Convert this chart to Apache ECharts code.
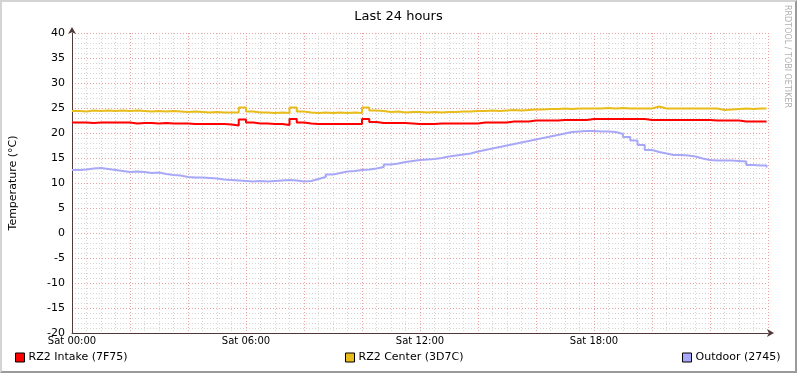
<!DOCTYPE html>
<html><head><meta charset="utf-8">
<script src="https://cdn.jsdelivr.net/npm/echarts@6/dist/echarts.min.js"></script>
<style>
html,body{margin:0;padding:0;background:#fff;}
#wrap{position:relative;width:797px;height:373px;}
#c{position:absolute;left:0;top:0;width:797px;height:373px;}
#frame{position:absolute;left:0;top:0;width:797px;height:373px;box-sizing:border-box;
border-top:2px solid #d4d4d4;border-left:2px solid #d4d4d4;border-right:2px solid #9a9a9a;border-bottom:2px solid #9a9a9a;pointer-events:none;}
</style></head>
<body><div id="wrap"><div id="c"></div><div id="frame"></div></div>
<script>
// time grid in hours since Sat 00:00 (15-minute steps)
const hours = Array.from({length: 96}, (_, i) => i / 4).concat([23.95]);
const seriesNames = ['RZ2 Intake (7F75)', 'RZ2 Center (3D7C)', 'Outdoor (2745)'];
const xTickLabels = ['Sat 00:00', 'Sat 06:00', 'Sat 12:00', 'Sat 18:00'];

const intake = [
  22.1,22.1,22.0,22.1,22.1,22.1,22.1,22.1,
  21.9,22.0,22.0,21.9,22.0,21.9,21.9,21.9,
  21.8,21.8,21.8,21.8,21.8,21.7,21.5,22.7,
  22.1,21.9,21.9,21.8,21.8,21.6,22.8,22.1,
  21.9,21.8,21.8,21.8,21.8,21.8,21.8,21.8,
  22.8,22.2,22.0,22.0,22.0,22.0,21.9,21.8,
  21.8,21.8,21.9,21.9,21.9,21.9,21.9,21.9,
  22.1,22.1,22.1,22.1,22.3,22.3,22.3,22.5,
  22.5,22.5,22.5,22.6,22.6,22.6,22.6,22.8,
  22.8,22.8,22.8,22.8,22.8,22.8,22.8,22.6,
  22.6,22.6,22.6,22.6,22.6,22.6,22.6,22.6,
  22.5,22.5,22.5,22.5,22.3,22.3,22.3,22.3,
  22.3
];
const center = [
  24.4,24.3,24.5,24.4,24.5,24.4,24.5,24.4,
  24.5,24.4,24.3,24.4,24.3,24.4,24.3,24.2,
  24.3,24.2,24.1,24.2,24.1,24.1,24.1,25.1,
  24.3,24.1,24.1,24.0,24.1,24.0,25.1,24.3,
  24.1,24.0,24.1,24.0,24.1,24.0,24.1,24.0,
  25.1,24.5,24.4,24.2,24.3,24.1,24.2,24.2,
  24.1,24.2,24.1,24.2,24.2,24.3,24.3,24.4,
  24.4,24.5,24.4,24.5,24.6,24.5,24.6,24.7,
  24.7,24.8,24.8,24.9,24.8,24.9,24.9,24.9,
  24.9,25.0,24.9,25.0,24.9,24.9,24.9,24.9,
  25.3,24.9,24.9,24.9,24.9,24.9,24.9,24.9,
  24.9,24.6,24.7,24.8,24.9,24.8,24.9,24.9,
  24.9
];
const outdoor = [
  12.6,12.7,12.9,13.0,12.8,12.6,12.4,12.2,
  12.3,12.2,12.0,12.1,11.8,11.6,11.5,11.2,
  11.1,11.1,11.0,10.9,10.7,10.6,10.5,10.4,
  10.3,10.4,10.3,10.4,10.5,10.6,10.5,10.3,
  10.4,10.8,11.2,11.7,12.0,12.3,12.4,12.6,
  12.7,12.9,13.2,13.7,13.9,14.2,14.4,14.6,
  14.7,14.8,15.0,15.3,15.5,15.7,15.9,16.3,
  16.6,16.9,17.2,17.5,17.8,18.1,18.4,18.7,
  19.0,19.3,19.6,19.9,20.2,20.3,20.4,20.4,
  20.3,20.3,20.2,19.8,19.2,18.5,17.6,16.6,
  16.2,15.9,15.6,15.6,15.5,15.3,14.9,14.6,
  14.5,14.5,14.5,14.4,14.3,13.6,13.5,13.5,
  13.1
];
const colors = ['#ff0000', '#e8bc1a', '#a8a8f8'];
const allValues = [intake, center, outdoor];

const FONT = 'DejaVu Sans';
const chart = echarts.init(document.getElementById('c'), null, {renderer: 'canvas'});

const legendLefts = [15, 345, 682];
const option = {
  animation: false,
  backgroundColor: '#ffffff',
  textStyle: {fontFamily: FONT},
  title: {
    text: 'Last 24 hours', left: 'center', top: 5,
    textStyle: {fontFamily: FONT, fontSize: 13, fontWeight: 'normal', color: '#000'}
  },
  legend: seriesNames.map((n, i) => ({
    data: [n], left: legendLefts[i], top: 352, itemWidth: 9, itemHeight: 9, itemGap: 4,
    icon: 'rect', padding: 0, selectedMode: false,
    itemStyle: {borderColor: '#000', borderWidth: 1},
    textStyle: {fontFamily: FONT, fontSize: 11, color: '#000', padding: [0, 0, 0, -1]}
  })),
  grid: {left: 67, right: 29, top: 33, bottom: 40, containLabel: false},
  xAxis: {
    type: 'value', min: 0, max: 24, interval: 2,
    axisLine: {show: true, onZero: false, lineStyle: {color: '#503838', width: 1},
      symbol: ['none', 'arrow'], symbolSize: [6, 7], symbolOffset: [0, 6]},
    axisTick: {show: false},
    axisLabel: {
      fontFamily: FONT, fontSize: 10, color: '#000', margin: 3,
      formatter: v => (v % 6 === 0 && v < 24) ? xTickLabels[v / 6] : ''
    },
    splitLine: {show: true, lineStyle: {color: '#e8a0a0', type: [1, 2], width: 1}},
    minorTick: {show: false, splitNumber: 4},
    minorSplitLine: {show: true, lineStyle: {color: '#d4d4d4', type: [1, 2], width: 1}}
  },
  yAxis: {
    type: 'value', min: -20, max: 40, interval: 5,
    name: 'Temperature (°C)', nameLocation: 'middle', nameGap: 53, nameRotate: 90,
    nameTextStyle: {fontFamily: FONT, fontSize: 11, color: '#000'},
    axisLine: {show: true, onZero: false, lineStyle: {color: '#503838', width: 1},
      symbol: ['none', 'arrow'], symbolSize: [6, 7], symbolOffset: [0, 6]},
    axisTick: {show: false},
    axisLabel: {fontFamily: FONT, fontSize: 11, color: '#000', margin: 7},
    splitLine: {show: true, lineStyle: {color: '#e8a0a0', type: [1, 2], width: 1}},
    minorTick: {show: false, splitNumber: 5},
    minorSplitLine: {show: true, lineStyle: {color: '#d4d4d4', type: [1, 2], width: 1}}
  },
  series: seriesNames.map((n, i) => ({
    name: n, type: 'line', step: 'end', showSymbol: false, symbol: 'none',
    color: colors[i],
    lineStyle: {color: colors[i], width: 2},
    data: hours.map((h, k) => [h, allValues[i][k]]),
    z: 3 - i
  })),
  graphic: [{
    type: 'text', left: 783, top: 5, rotation: -Math.PI / 2,
    style: {text: 'RRDTOOL / TOBI OETIKER', fill: '#b0b0b0', font: '8px ' + FONT}
  }]
};
chart.setOption(option);
</script></body></html>
